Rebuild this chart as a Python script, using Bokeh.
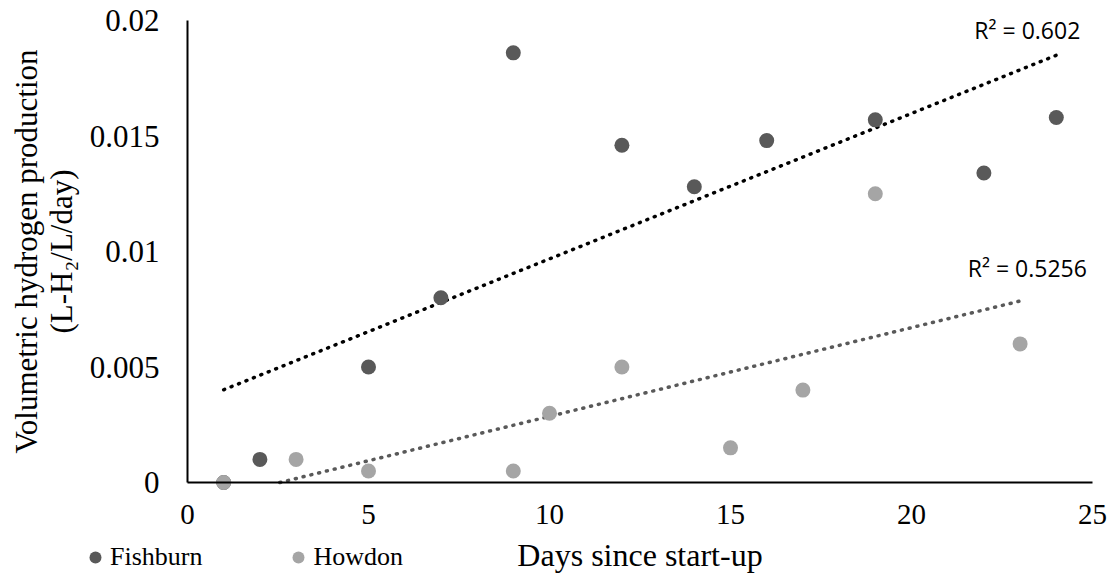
import numpy as np
from bokeh.plotting import figure
from bokeh.models import Label, Legend, LegendItem, Range1d, FixedTicker, NumeralTickFormatter
from bokeh.embed import file_html
from bokeh.resources import INLINE

# ---- data ----
fish_days = [1, 2, 5, 7, 9, 12, 14, 16, 19, 22, 24]
fish_vals = [0.0, 0.001, 0.005, 0.008, 0.0186, 0.0146, 0.0128, 0.0148, 0.0157, 0.0134, 0.0158]
how_days = [1, 3, 5, 9, 10, 12, 15, 17, 19, 23]
how_vals = [0.0, 0.001, 0.0005, 0.0005, 0.003, 0.005, 0.0015, 0.004, 0.0125, 0.006]
x_ticks = [0, 5, 10, 15, 20, 25]
y_ticks = [0, 0.005, 0.01, 0.015, 0.02]
fish_r2_text = "R² = 0.602"
how_r2_text = "R² = 0.5256"

SERIF = "Liberation Serif"
FISH_COL = "#595959"
HOW_COL = "#A5A5A5"

# frame spans the whole canvas; axes are pinned at 0 so outside texts are not clipped
W, H = 1110, 576
X0PX, XPERDAY = 187.0, 36.2
Y0PX, YPERUNIT = 482.0, 23100.0
xr = Range1d(-X0PX / XPERDAY, (W - X0PX) / XPERDAY)
yr = Range1d(-(H - Y0PX) / YPERUNIT, Y0PX / YPERUNIT)

p = figure(width=W, height=H, output_backend="svg", toolbar_location=None,
           x_range=xr, y_range=yr,
           min_border_left=0, min_border_right=0, min_border_top=0, min_border_bottom=0)
p.outline_line_color = None
p.xgrid.visible = False
p.ygrid.visible = False
p.background_fill_color = "white"
p.border_fill_color = "white"

# trendlines (linear least squares, as in the spreadsheet chart)
fs, fi = np.polyfit(fish_days, fish_vals, 1)
hs, hi = np.polyfit(how_days, how_vals, 1)
fx = [min(fish_days), max(fish_days)]
fy = [fs * v + fi for v in fx]
hx0 = max(min(how_days), -hi / hs)
hx = [hx0, max(how_days)]
hy = [hs * v + hi for v in hx]
p.line(fx, fy, line_color="black", line_width=3.5, line_dash="1 7", line_cap="round")
p.line(hx, hy, line_color=FISH_COL, line_width=3.5, line_dash="1 7", line_cap="round")

r_f = p.scatter(fish_days, fish_vals, size=15, fill_color=FISH_COL, line_color=None)
r_h = p.scatter(how_days, how_vals, size=15, fill_color=HOW_COL, line_color=None)

# axes
for ax in (p.xaxis[0], p.yaxis[0]):
    ax.fixed_location = 0
    ax.major_tick_line_color = None
    ax.minor_tick_line_color = None
    ax.axis_line_color = "black"
    ax.axis_line_width = 2
    ax.major_label_text_font = SERIF
    ax.major_label_text_color = "black"
    ax.major_label_text_font_style = "normal"
p.xaxis.bounds = (0, 25)
p.yaxis.bounds = (0, 0.02)
p.xaxis.ticker = FixedTicker(ticks=x_ticks)
p.yaxis.ticker = FixedTicker(ticks=y_ticks)
p.yaxis.formatter = NumeralTickFormatter(format="0.[000]")
p.xaxis.major_label_text_font_size = "29px"
p.yaxis.major_label_text_font_size = "31px"
p.xaxis.major_label_standoff = 16
p.yaxis.major_label_standoff = 22
p.xaxis.axis_label = "Days since start-up"
p.xaxis.axis_label_text_font = SERIF
p.xaxis.axis_label_text_font_size = "32px"
p.xaxis.axis_label_text_font_style = "normal"
p.xaxis.axis_label_text_color = "black"
p.xaxis.axis_label_standoff = 10

# y-axis title (two lines)
p.add_layout(Label(x=-4.45, y=0.0100, text="Volumetric hydrogen production", angle=np.pi / 2,
                   text_align="center", text_baseline="middle", text_font=SERIF,
                   text_font_size="31px", text_color="black"))
p.add_layout(Label(x=-3.47, y=0.0100, text="(L-H₂/L/day)", angle=np.pi / 2,
                   text_align="center", text_baseline="middle", text_font=SERIF,
                   text_font_size="31px", text_color="black"))

# R² labels
p.add_layout(Label(x=23.2, y=0.0196, text=fish_r2_text, text_align="center", text_baseline="middle",
                   text_font="Open Sans", text_font_size="23px", text_color="black"))
p.add_layout(Label(x=23.2, y=0.0093, text=how_r2_text, text_align="center", text_baseline="middle",
                   text_font="Open Sans", text_font_size="23px", text_color="black"))

legend = Legend(items=[LegendItem(label="Fishburn", renderers=[r_f]),
                       LegendItem(label="Howdon", renderers=[r_h])],
                orientation="horizontal", location=(80, 2),
                label_text_font=SERIF, label_text_font_size="26px", label_text_color="black",
                glyph_width=30, glyph_height=34, label_standoff=0, spacing=81,
                padding=0, margin=0, border_line_color=None, background_fill_alpha=0)
p.add_layout(legend)

open("out.html", "w").write(file_html(p, INLINE))
